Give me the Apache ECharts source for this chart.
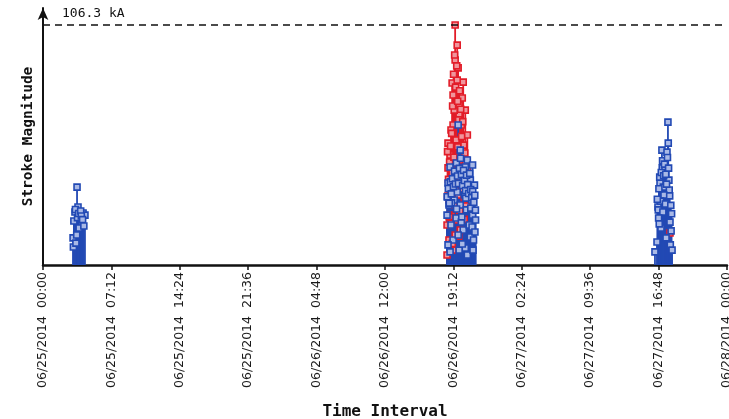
<!DOCTYPE html>
<html>
<head>
<meta charset="utf-8">
<script src="https://cdn.jsdelivr.net/npm/echarts@6/dist/echarts.min.js"></script>
<style>html,body{margin:0;padding:0;background:#fff;}#c{width:729px;height:419px;}</style>
</head>
<body>
<div id="c"></div>
<script>
// ---- data ----
const startTime = "2014-06-25 00:00";
const endTime = "2014-06-28 00:00";
const peakValue = 106.3;
const peakLabel = "106.3 kA";

const blueTimes = [
  // 06/25 cluster
  "2014-06-25 03:35","2014-06-25 03:22","2014-06-25 03:41","2014-06-25 04:13","2014-06-25 04:06",
  "2014-06-25 03:54","2014-06-25 03:10","2014-06-25 03:12","2014-06-25 03:33","2014-06-25 03:48",
  "2014-06-25 04:25","2014-06-25 03:28","2014-06-25 03:15","2014-06-25 03:25","2014-06-25 03:38",
  "2014-06-25 03:45","2014-06-25 03:58","2014-06-25 04:02","2014-06-25 04:10","2014-06-25 04:18",
  // 06/26 cluster
  "2014-06-26 19:42","2014-06-26 19:55","2014-06-26 20:40","2014-06-26 18:51","2014-06-26 20:27",
  "2014-06-26 21:13","2014-06-26 19:23","2014-06-26 20:08","2014-06-26 20:59","2014-06-26 18:38",
  "2014-06-26 21:25","2014-06-26 19:04","2014-06-26 19:36","2014-06-26 20:21","2014-06-26 20:46",
  "2014-06-26 21:06","2014-06-26 18:44","2014-06-26 19:17","2014-06-26 19:55","2014-06-26 20:34",
  "2014-06-26 21:13","2014-06-26 21:32","2014-06-26 18:32","2014-06-26 18:57","2014-06-26 19:29",
  "2014-06-26 20:02","2014-06-26 20:14","2014-06-26 20:52","2014-06-26 21:10","2014-06-26 20:59",
  "2014-06-26 21:19","2014-06-26 19:10","2014-06-26 19:42","2014-06-26 18:38","2014-06-26 20:27",
  "2014-06-26 18:51","2014-06-26 20:40","2014-06-26 21:16","2014-06-26 19:48","2014-06-26 20:08",
  "2014-06-26 18:35","2014-06-26 19:00","2014-06-26 19:32","2014-06-26 20:05","2014-06-26 20:30",
  "2014-06-26 21:02","2014-06-26 21:28",
  "2014-06-26 18:33","2014-06-26 18:40","2014-06-26 18:46","2014-06-26 18:53","2014-06-26 18:59",
  "2014-06-26 19:06","2014-06-26 19:12","2014-06-26 19:19","2014-06-26 19:25","2014-06-26 19:31",
  "2014-06-26 19:38","2014-06-26 19:44","2014-06-26 19:50","2014-06-26 19:57","2014-06-26 20:03",
  "2014-06-26 20:10","2014-06-26 20:16","2014-06-26 20:22","2014-06-26 20:29","2014-06-26 20:35",
  "2014-06-26 20:42","2014-06-26 20:48","2014-06-26 20:55","2014-06-26 21:01","2014-06-26 21:08",
  "2014-06-26 21:14","2014-06-26 21:21","2014-06-26 21:27","2014-06-26 21:31",
  // 06/27 cluster
  "2014-06-27 17:47","2014-06-27 17:49","2014-06-27 17:09","2014-06-27 17:41","2014-06-27 17:11",
  "2014-06-27 17:28","2014-06-27 17:53","2014-06-27 16:57","2014-06-27 17:55","2014-06-27 17:22",
  "2014-06-27 16:44","2014-06-27 16:46","2014-06-27 17:15","2014-06-27 16:48","2014-06-27 18:00",
  "2014-06-27 17:03","2014-06-27 17:35","2014-06-27 18:02","2014-06-27 16:38","2014-06-27 18:13",
  "2014-06-27 16:25","2014-06-27 17:00","2014-06-27 17:18","2014-06-27 17:31","2014-06-27 18:07",
  "2014-06-27 16:52","2014-06-27 16:40","2014-06-27 16:50","2014-06-27 16:55","2014-06-27 17:05",
  "2014-06-27 17:13","2014-06-27 17:20","2014-06-27 17:25","2014-06-27 17:33","2014-06-27 17:38",
  "2014-06-27 17:44","2014-06-27 17:51","2014-06-27 17:58","2014-06-27 18:05","2014-06-27 18:10"
];
const blueValues = [
  34.5,23.5,25.7,23.0,18.6,
  20.8,12.0,8.0,13.3,16.4,
  22.1,9.7,19.5,24.6,21.0,
  22.8,23.9,21.7,20.1,17.3,
  62.0,50.9,46.5,43.4,43.4,
  44.3,39.9,38.5,37.6,36.3,
  35.4,33.2,32.3,31.0,34.1,
  28.8,26.6,28.8,26.6,24.4,
  22.1,19.9,22.1,17.7,20.8,
  19.0,15.5,17.7,16.8,12.4,
  11.1,11.1,13.3,8.9,7.5,
  5.8,4.4,6.6,6.6,9.3,
  30.1,27.5,24.8,21.3,29.6,
  25.2,14.6,
  30.2,33.9,27.4,36.8,31.5,
  38.2,34.7,41.6,35.9,45.2,
  39.4,36.1,42.8,47.3,40.1,
  35.2,41.9,37.4,33.0,39.8,
  35.6,31.7,40.6,33.4,29.9,
  32.6,27.8,30.9,24.3,
  63.3,54.0,50.9,50.0,43.0,
  42.1,37.6,36.3,33.2,31.0,
  25.7,24.4,23.5,20.8,19.0,
  16.4,12.0,8.9,10.2,6.6,
  5.8,28.3,34.5,27.0,15.1,
  18.2,29.1,33.8,38.9,41.0,
  46.2,39.5,44.7,40.2,35.8,
  47.6,42.9,30.6,26.4,22.7
];

const redTimes = [
  "2014-06-26 19:23","2014-06-26 19:36","2014-06-26 19:23","2014-06-26 19:42","2014-06-26 19:04",
  "2014-06-26 20:14","2014-06-26 19:10","2014-06-26 20:08","2014-06-26 20:27","2014-06-26 19:10",
  "2014-06-26 20:40","2014-06-26 18:38","2014-06-26 20:14","2014-06-26 18:38","2014-06-26 19:04",
  "2014-06-26 20:40","2014-06-26 18:51","2014-06-26 19:29","2014-06-26 19:55","2014-06-26 18:44",
  "2014-06-26 19:17","2014-06-26 19:42","2014-06-26 18:57","2014-06-26 18:32","2014-06-26 19:36",
  "2014-06-26 20:08","2014-06-26 18:44","2014-06-26 19:23","2014-06-26 19:10","2014-06-26 18:32",
  "2014-06-26 19:55","2014-06-26 20:21","2014-06-26 20:34","2014-06-26 19:48","2014-06-26 19:29",
  "2014-06-26 20:02","2014-06-26 18:51","2014-06-26 19:17","2014-06-26 19:36","2014-06-26 19:48",
  "2014-06-26 18:57","2014-06-26 20:21","2014-06-26 20:02",
  "2014-06-26 18:35","2014-06-26 18:41","2014-06-26 18:48","2014-06-26 18:54","2014-06-26 19:01",
  "2014-06-26 19:07","2014-06-26 19:13","2014-06-26 19:20","2014-06-26 19:26","2014-06-26 19:33",
  "2014-06-26 19:39","2014-06-26 19:45","2014-06-26 19:51","2014-06-26 19:58","2014-06-26 20:04",
  "2014-06-26 20:11","2014-06-26 20:17","2014-06-26 20:24","2014-06-26 20:30","2014-06-26 20:37",
  "2014-06-26 20:43","2014-06-26 20:46","2014-06-26 18:45","2014-06-26 18:58","2014-06-26 19:15",
  "2014-06-26 19:27","2014-06-26 19:40","2014-06-26 19:52","2014-06-26 20:05","2014-06-26 20:20",
  "2014-06-26 19:05","2014-06-26 19:45","2014-06-26 18:36","2014-06-26 20:33",
  "2014-06-27 18:00"
];
const redValues = [
  106.3,97.4,90.8,87.3,80.6,
  81.0,75.3,74.0,68.6,62.0,
  57.6,54.0,51.8,43.0,40.7,
  42.1,35.4,33.2,37.6,28.8,
  26.6,31.0,22.1,17.7,19.9,
  24.4,11.1,13.3,6.6,4.4,
  15.5,28.8,46.5,66.4,55.4,
  62.0,48.7,68.6,81.9,70.9,
  59.8,39.9,46.5,
  50.2,38.0,45.6,52.7,58.3,
  70.4,84.5,93.0,78.8,88.2,
  72.5,64.3,77.2,69.0,56.9,
  63.5,53.1,49.6,44.8,38.9,
  35.0,29.4,21.3,18.5,47.8,
  41.2,52.3,24.1,33.6,20.2,
  9.5,12.8,30.5,26.1,
  14.2
];

// ---- helpers ----
function parseT(s) {
  const m = s.match(/(\d+)-(\d+)-(\d+) (\d+):(\d+)/);
  return Date.UTC(+m[1], +m[2]-1, +m[3], +m[4], +m[5]);
}
const t0 = parseT(startTime);
function toHours(s) { return (parseT(s) - t0) / 3600000; }
function pad(n){ return (n<10?'0':'')+n; }
function fmtTick(h) {
  const mins = Math.round(h*60);
  const d = new Date(t0 + mins*60000);
  return pad(d.getUTCMonth()+1)+'/'+pad(d.getUTCDate())+'/'+d.getUTCFullYear()+'  '+pad(d.getUTCHours())+':'+pad(d.getUTCMinutes());
}
const blueData = blueTimes.map((t,i)=>[toHours(t), blueValues[i]]);
const redData = redTimes.map((t,i)=>[toHours(t), redValues[i]]);
const spanHours = toHours(endTime);

const BLUE = '#2249b4', RED = '#e21c28';
function stem(color){
  return function(params, api){
    const x = api.value(0), v = api.value(1);
    const p1 = api.coord([x, v]);
    const p0 = api.coord([x, 0]);
    return {type:'line', shape:{x1:p1[0], y1:p1[1], x2:p0[0], y2:p0[1]}, style:{stroke:color, lineWidth:1.8}};
  };
}

const chart = echarts.init(document.getElementById('c'), null, {renderer:'canvas'});
chart.setOption({
  animation: false,
  backgroundColor: '#ffffff',
  grid: {left: 43, right: 2, top: 8, bottom: 154, containLabel: false, outerBoundsMode: 'none'},
  xAxis: {
    type: 'value', min: 0, max: spanHours, interval: 7.2,
    name: 'Time Interval', nameLocation: 'middle', nameGap: 139,
    nameTextStyle: {fontFamily: 'DejaVu Sans Mono', fontWeight: 'bold', fontSize: 16, color: '#111'},
    axisLine: {lineStyle: {color: '#111', width: 2.5}},
    axisTick: {show: true, length: 5, lineStyle: {color: '#111', width: 1.5}},
    axisLabel: {rotate: 90, margin: 7, fontFamily: 'DejaVu Sans', fontSize: 12.5, color: '#1a1a1a', formatter: fmtTick, showMaxLabel: true, showMinLabel: true, hideOverlap: false},
    splitLine: {show: false}
  },
  yAxis: {
    type: 'value', min: 0, max: peakValue*257/240,
    name: 'Stroke Magnitude', nameLocation: 'middle', nameGap: 7, nameRotate: 90,
    nameTextStyle: {fontFamily: 'DejaVu Sans Mono', fontWeight: 'bold', fontSize: 14.5, color: '#111'},
    axisLine: {show: true, symbol: ['none','arrow'], symbolSize: [8, 12], lineStyle: {color: '#111', width: 2}},
    axisTick: {show: false}, axisLabel: {show: false}, splitLine: {show: false}
  },
  series: [
    {type:'custom', name:'red stems', renderItem: stem(RED), data: redData, z: 2},
    {type:'custom', name:'blue stems', renderItem: stem(BLUE), data: blueData, z: 3},
    {type:'scatter', name:'red', data: redData, symbol:'rect', symbolSize: 6, z: 4,
      itemStyle: {color:'#f0959c', borderColor: RED, borderWidth: 1.6, opacity: 1}},
    {type:'scatter', name:'blue', data: blueData, symbol:'rect', symbolSize: 6, z: 5,
      itemStyle: {color:'#a9b9e6', borderColor: BLUE, borderWidth: 1.6, opacity: 1},
      markLine: {
        silent: true, symbol: ['none','none'],
        lineStyle: {color: '#111', type: [7,5], width: 1.6},
        label: {show: true, position: 'insideStartTop', formatter: peakLabel, padding: [0,0,0,14],
          fontFamily: 'DejaVu Sans Mono', fontSize: 13, color: '#111'},
        data: [{yAxis: peakValue}]
      }}
  ]
});
</script>
</body>
</html>
